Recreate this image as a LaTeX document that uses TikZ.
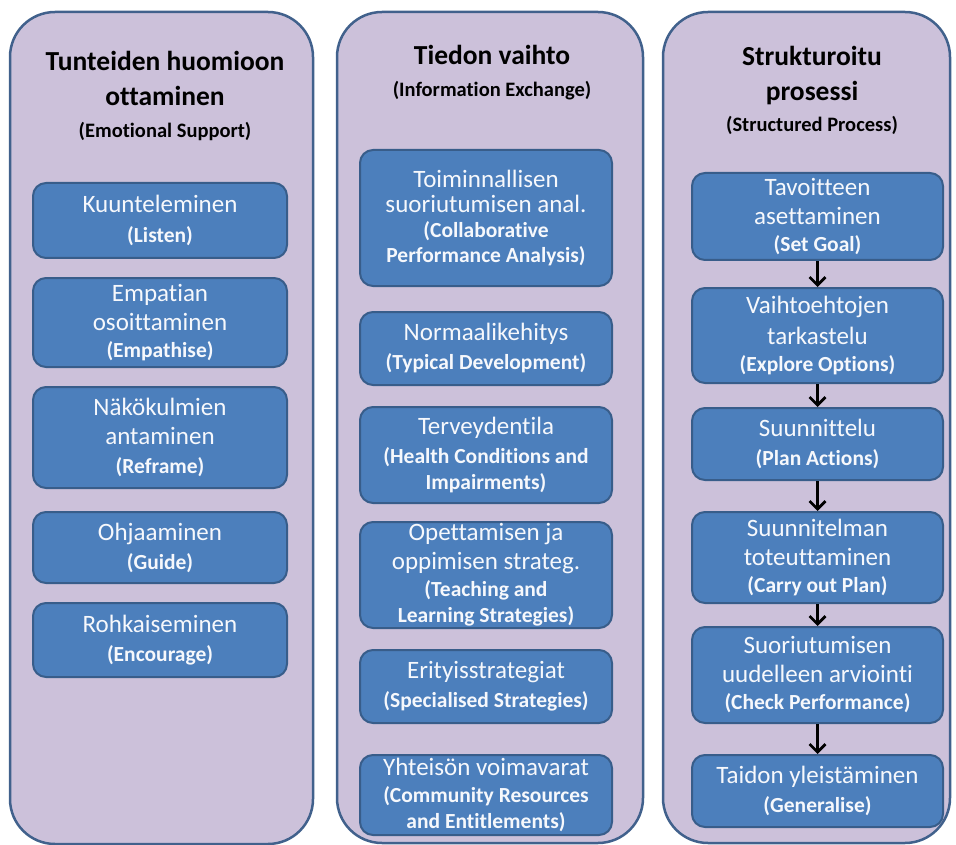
\documentclass[tikz,border=0pt]{standalone}
\usepackage{fontspec}
\setmainfont{Carlito}[Ligatures={NoCommon}]
\usetikzlibrary{arrows.meta}

\definecolor{colfill}{RGB}{204,193,218}
\definecolor{colline}{RGB}{65,97,140}
\definecolor{itemfill}{RGB}{76,127,188}
\definecolor{itemline}{RGB}{56,93,138}
\definecolor{itemtext}{RGB}{246,248,252}

\newcommand{\headtitle}{\fontsize{27.5}{35}\selectfont\bfseries}
\newcommand{\headsub}{\fontsize{20.5}{31}\selectfont\bfseries}
\newcommand{\itemsub}{\fontsize{21.5}{27}\selectfont\bfseries}

\tikzset{
    column/.style={draw=colline, line width=2.5pt, fill=colfill, rounded corners=45pt, inner sep=0pt},
    head/.style={align=center, text=black, inner sep=0pt, font=\headtitle},
    item/.style={draw=itemline, line width=2pt, fill=itemfill, rounded corners=13pt, text=itemtext,
        align=center, inner sep=0pt, font=\fontsize{25}{29}\selectfont},
    flow/.style={line width=2.8pt, -{Straight Barb[length=8pt,width=16pt]}}
}

\begin{document}
\begin{tikzpicture}[x=1pt, y=-1pt]
    \useasboundingbox (0, 0) rectangle (956, 845);

    % columns: x 10..313, 337..643, 663..950
    \node[column, minimum width=303pt, minimum height=832pt] (emo) at (161.5, 428) {};
    \node[column, minimum width=306pt, minimum height=831pt] (info) at (490, 427.5) {};
    \node[column, minimum width=287pt, minimum height=831pt] (proc) at (806.5, 427.5) {};

    \node[head] (emohead) at (165, 96) {Tunteiden huomioon\\ottaminen\\[-3pt]{\headsub (Emotional Support)}};
    \node[head] (infohead) at (492, 73) {Tiedon vaihto\\[-3pt]{\headsub (Information Exchange)}};
    \node[head] (prochead) at (812, 90) {Strukturoitu\\prosessi\\[-4pt]{\headsub (Structured Process)}};

    % left column: x 33..287
    \node[item, minimum width=254pt, minimum height=75pt] (e1) at (160, 220.5) {\rule{0pt}{6pt}Kuunteleminen\\[1pt]{\itemsub (Listen)}};
    \node[item, minimum width=254pt, minimum height=89pt] (e2) at (160, 322.5) {Empatian\\osoittaminen\\[-2pt]{\itemsub (Empathise)}};
    \node[item, minimum width=254pt, minimum height=101pt] (e3) at (160, 437.5) {Näkökulmien\\antaminen\\{\itemsub (Reframe)}};
    \node[item, minimum width=254pt, minimum height=71pt] (e4) at (160, 547.5) {Ohjaaminen\\{\itemsub (Guide)}};
    \node[item, minimum width=254pt, minimum height=74pt] (e5) at (160, 640) {Rohkaiseminen\\{\itemsub (Encourage)}};

    % middle column: x 360..612
    \node[item, minimum width=252pt, minimum height=136pt] (i1) at (486, 218) {Toiminnallisen\\[-4pt]suoriutumisen anal.\\[-4pt]{\itemsub (Collaborative}\\[-4pt]{\itemsub Performance Analysis)}};
    \node[item, minimum width=252pt, minimum height=73pt] (i2) at (486, 348.5) {Normaalikehitys\\{\itemsub (Typical Development)}};
    \node[item, minimum width=252pt, minimum height=96pt] (i3) at (486, 455) {Terveydentila\\{\itemsub (Health Conditions and}\\[-3pt]{\itemsub Impairments)}};
    \node[item, minimum width=252pt, minimum height=106pt] (i4) at (486, 575) {Opettamisen ja\\oppimisen strateg.\\[-2pt]{\itemsub (Teaching and}\\[-3pt]{\itemsub Learning Strategies)}};
    \node[item, minimum width=252pt, minimum height=73pt] (i5) at (486, 686.5) {Erityisstrategiat\\{\itemsub (Specialised Strategies)}};
    \node[item, minimum width=252pt, minimum height=80pt] (i6) at (486, 795) {Yhteisön voimavarat\\[-2pt]{\itemsub (Community Resources}\\[-3pt]{\itemsub and Entitlements)}};

    % right column: x 692..943
    \node[item, minimum width=251pt, minimum height=87pt] (p1) at (817.5, 216.5) {Tavoitteen\\asettaminen\\[-2pt]{\itemsub (Set Goal)}};
    \node[item, minimum width=251pt, minimum height=95pt] (p2) at (817.5, 335.5) {Vaihtoehtojen\\[2pt]tarkastelu\\[-2pt]{\itemsub (Explore Options)}};
    \node[item, minimum width=251pt, minimum height=72pt] (p3) at (817.5, 444) {Suunnittelu\\{\itemsub (Plan Actions)}};
    \node[item, minimum width=251pt, minimum height=91pt] (p4) at (817.5, 557.5) {Suunnitelman\\toteuttaminen\\[-2pt]{\itemsub (Carry out Plan)}};
    \node[item, minimum width=251pt, minimum height=96pt] (p5) at (817.5, 675) {Suoriutumisen\\uudelleen arviointi\\[-2pt]{\itemsub (Check Performance)}};
    \node[item, minimum width=251pt, minimum height=72pt] (p6) at (817.5, 791) {Taidon yleistäminen\\{\itemsub (Generalise)}};

    \draw[flow] (p1) -- (p2);
    \draw[flow] (p2) -- (p3);
    \draw[flow] (p3) -- (p4);
    \draw[flow] (p4) -- (p5);
    \draw[flow] (p5) -- (p6);
\end{tikzpicture}
\end{document}
